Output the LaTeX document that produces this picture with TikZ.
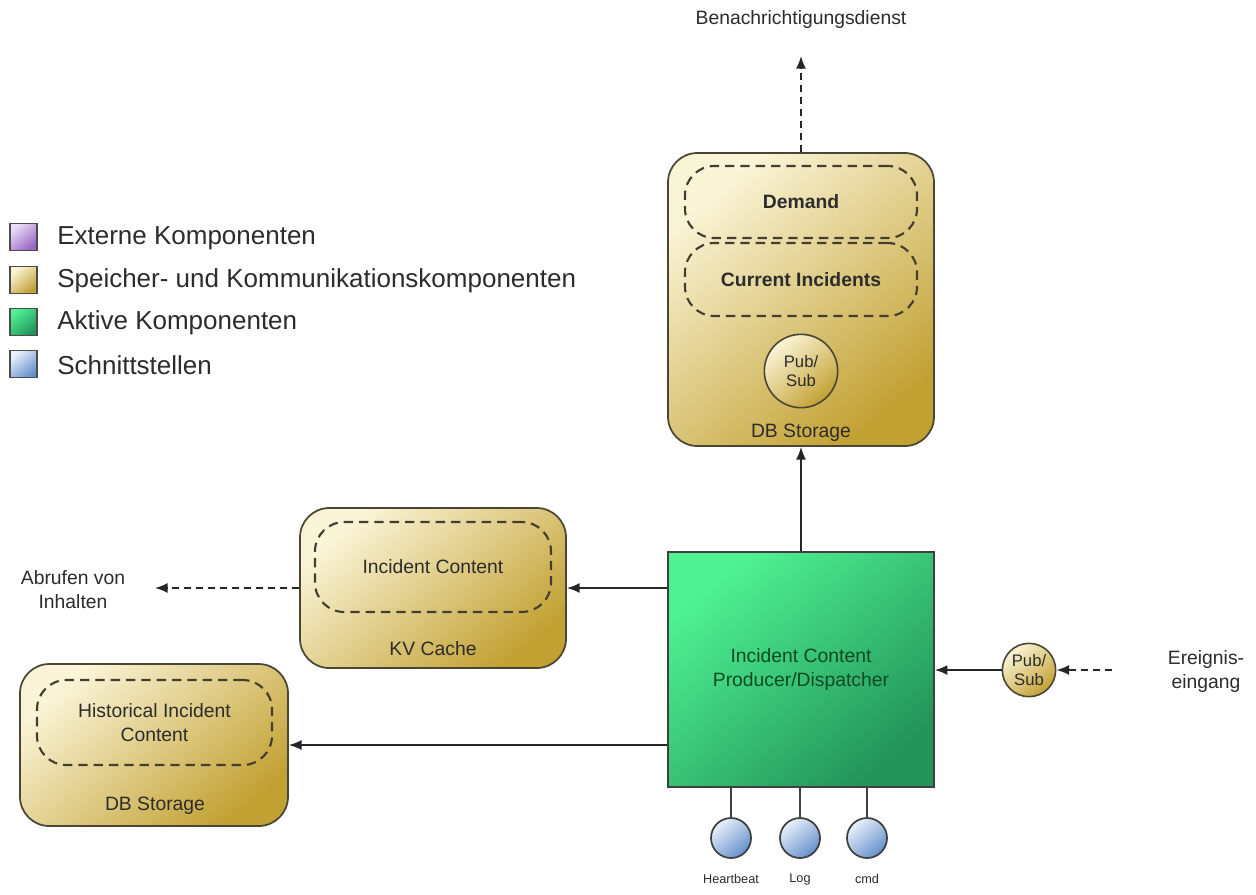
\documentclass[tikz,border=0pt]{standalone}
\usepackage{fontspec}
\setmainfont{Liberation Sans}
\usetikzlibrary{fit,arrows.meta}

\definecolor{ylight}{HTML}{FBF5D8}
\definecolor{ydark}{HTML}{C2A133}
\definecolor{glight}{HTML}{4FF293}
\definecolor{gdark}{HTML}{23945A}
\definecolor{blight}{HTML}{EAF1FB}
\definecolor{bdark}{HTML}{6590CC}
\definecolor{plight}{HTML}{EADCF5}
\definecolor{pdark}{HTML}{9866C6}
\definecolor{edge}{HTML}{4A4535}
\definecolor{ink}{HTML}{2C2C2C}
\definecolor{gink}{HTML}{0E4A22}

\tikzset{
  store/.style={draw=edge, line width=1.3pt, rounded corners=22pt,
    top color=ylight, bottom color=ydark, shading angle=40, inner sep=0pt},
  inner/.style={draw=edge!90!black, line width=1.6pt, dash pattern=on 7pt off 4.5pt,
    rounded corners=22pt, inner sep=0pt},
  active/.style={draw=black!75, line width=1.2pt,
    top color=glight, bottom color=gdark, shading angle=40, inner sep=0pt},
  pubsub/.style={circle, draw=edge, line width=1.2pt, inner sep=0pt,
    top color=ylight, bottom color=ydark, shading angle=40, align=center,
    font=\fontsize{12.5}{14.5}\selectfont, text=ink},
  port/.style={circle, draw=black!75, line width=1.3pt, inner sep=0pt,
    minimum size=30pt, top color=blight, bottom color=bdark, shading angle=40},
  lbl/.style={font=\fontsize{14.5}{17.5}\selectfont, text=ink, align=center, inner sep=0pt},
  bold/.style={lbl, font=\fontsize{14.5}{17.5}\selectfont\bfseries},
  small/.style={font=\fontsize{9.5}{11}\selectfont, text=ink, inner sep=0pt},
  legsq/.style={draw=black!70, line width=1.2pt, minimum size=20pt, inner sep=0pt,
    shading angle=40},
  legtxt/.style={font=\fontsize{19.5}{23}\selectfont, text=ink, anchor=west, inner sep=0pt},
  arr/.style={draw=black!85, line width=1.2pt, -{Latex[length=9.5pt,width=7.5pt]}},
  darr/.style={arr, dash pattern=on 5pt off 4pt},
}

\begin{document}
\begin{tikzpicture}[x=0.75pt,y=-0.75pt]
\useasboundingbox[fill=white] (0,0) rectangle (1256,894);

% legend
\node[legsq, top color=plight, bottom color=pdark, shading angle=40] (lg1) at (23.5,237) {};
\node[legsq, top color=ylight, bottom color=ydark, shading angle=40] (lg2) at (23.5,280) {};
\node[legsq, top color=glight, bottom color=gdark, shading angle=40] (lg3) at (23.5,322) {};
\node[legsq, top color=blight, bottom color=bdark, shading angle=40] (lg4) at (23.5,364) {};
\node[legtxt] (lt1) at (57,238) {Externe Komponenten};
\node[legtxt] (lt2) at (57,281) {Speicher- und Kommunikationskomponenten};
\node[legtxt] (lt3) at (57,323) {Aktive Komponenten};
\node[legtxt] (lt4) at (57,365) {Schnittstellen};

% upper DB storage
\node[store, fit={(668,153)(934,446)}] (top) {};
\node[inner, fit={(685,166)(917,238)}] (demand) {};
\node[inner, fit={(685,243)(917,316)}] (current) {};
\node[bold] (demandtxt) at (demand.center) {Demand};
\node[bold] (currenttxt) at (current.center) {Current Incidents};
\node[pubsub, minimum size=55pt] (ps1) at (801,371) {Pub/\\Sub};
\node[lbl] (toplbl) at (801,433) {DB Storage};

\node[lbl] (notify) at (801,19) {Benachrichtigungsdienst};
\coordinate (notifyend) at (801,56);

% producer / dispatcher
\node[active, fit={(668,552)(934,787)}] (prod) {};
\node[lbl, text=gink, font=\fontsize{14.5}{18}\selectfont] (prodtxt) at (prod.center) {Incident Content\\Producer/Dispatcher};

% KV cache
\node[store, fit={(300,508)(566,668)}] (kv) {};
\node[inner, fit={(315,522)(551,612)}] (kvin) {};
\node[lbl] (kvtxt) at (kvin.center) {Incident Content};
\node[lbl] (kvlbl) at (433,649) {KV Cache};
\node[lbl, font=\fontsize{14.5}{18}\selectfont] (fetch) at (73,590) {Abrufen von\\Inhalten};
\coordinate (fetchend) at (155,588);

% historical DB storage
\node[store, fit={(20,664)(288,826)}] (hist) {};
\node[inner, fit={(37,680)(272,765)}] (histin) {};
\node[lbl, font=\fontsize{14.5}{18}\selectfont] (histtxt) at (histin.center) {Historical Incident\\Content};
\node[lbl] (histlbl) at (155,806) {DB Storage};

% incoming events
\node[pubsub, minimum size=40pt] (ps2) at (1029,670) {Pub/\\Sub};
\node[lbl, font=\fontsize{14.5}{18}\selectfont] (events) at (1206,671) {Ereignis-\\eingang};
\coordinate (eventsstart) at (1112,670);

% interfaces
\node[port] (hb) at (731,838) {};
\node[port] (log) at (800,838) {};
\node[port] (cmd) at (867,838) {};
\node[small] (hbtxt) at (731,879) {Heartbeat};
\node[small] (logtxt) at (800,879) {Log};
\node[small] (cmdtxt) at (867,879) {cmd};

% connectors
\draw[darr] (top.north) -- (notifyend);
\draw[arr] (prod.north) -- (top.south);
\draw[arr] (prod.west |- kv.east) -- (kv.east);
\draw[darr] (kv.west) -- (fetchend);
\draw[arr] (prod.west |- hist.east) -- (hist.east);
\draw[arr] (ps2.west) -- (prod.east |- ps2.west);
\draw[darr] (eventsstart) -- (ps2.east);
\foreach \p in {hb,log,cmd}
  \draw[draw=black!75, line width=1.2pt] (\p.north |- prod.south) -- (\p.north);
\end{tikzpicture}
\end{document}
